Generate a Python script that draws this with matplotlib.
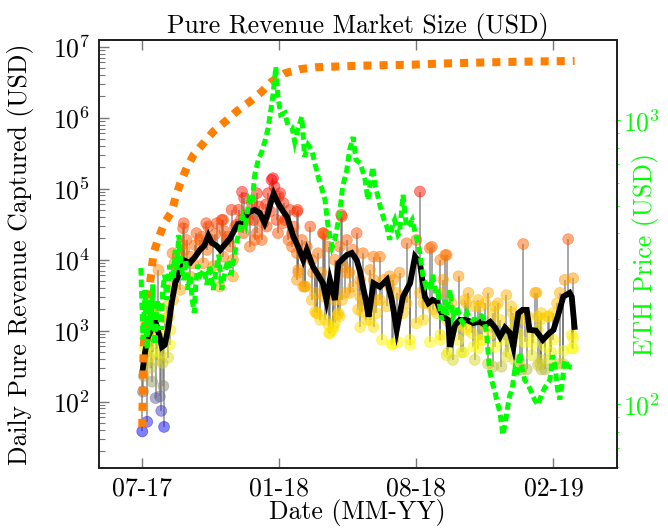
import numpy as np
import matplotlib
matplotlib.use("Agg")
import matplotlib.pyplot as plt
from matplotlib.colors import LinearSegmentedColormap
from matplotlib.ticker import NullFormatter, LogLocator, FixedLocator

# x values are days since 2017-07-07
tick_days = [0, 195, 390, 585]
tick_labels = ["07-17", "01-18", "08-18", "02-19"]

# ETH price (USD), right axis
eth_days = [-2, 1, 4, 7, 10, 12, 15, 18, 22, 27, 29, 32, 35, 39, 44, 47, 49, 52, 55, 59,
            62, 65, 68, 71, 74, 76, 79, 83, 88, 92, 96, 101, 105, 109, 113, 118, 122, 126, 130, 135,
            139, 143, 147, 152, 156, 160, 165, 170, 175, 179, 183, 186, 190, 193, 197, 203, 207, 213, 217, 221,
            227, 231, 236, 241, 246, 248, 253, 255, 260, 264, 270, 274, 278, 281, 285, 291, 295, 300, 304, 310,
            314, 317, 321, 325, 328, 331, 334, 338, 341, 345, 348, 352, 356, 359, 364, 366, 371, 374, 376, 380,
            384, 388, 391, 395, 399, 403, 406, 411, 413, 418, 421, 423, 426, 431, 433, 438, 442, 448, 452, 456,
            462, 466, 470, 476, 480, 485, 490, 494, 497, 502, 504, 509, 513, 516, 520, 523, 526, 530, 533, 537,
            540, 544, 549, 554, 558, 563, 568, 573, 577, 580, 584, 587, 591, 594, 597, 601, 606, 611]
eth_price = [302, 169, 253, 156, 233, 183, 264, 162, 233, 183, 253, 286, 233, 310, 274, 350, 298, 395, 310, 274,
             323, 253, 286, 233, 210, 264, 310, 286, 298, 264, 310, 253, 298, 336, 253, 298, 323, 286, 323, 380,
             412, 457, 429, 525, 504, 643, 726, 775, 854, 941, 1089, 1230, 1543, 1210, 1046, 1063, 964, 949, 840, 926,
             1029, 744, 820, 787, 697, 669, 593, 580, 525, 429, 358, 380, 429, 476, 583, 669, 787, 874, 726, 708,
             658, 617, 525, 617, 686, 593, 556, 504, 472, 439, 422, 380, 429, 446, 395, 401, 547, 465, 422, 429,
             446, 405, 380, 341, 286, 264, 274, 253, 286, 243, 247, 224, 198, 233, 207, 253, 203, 220, 201, 194,
             210, 201, 198, 201, 207, 203, 178, 132, 122, 110, 104, 93.5, 78, 84.7, 98.4, 108, 112, 132, 127, 152,
             136, 122, 117, 110, 104, 99.6, 108, 115, 119, 122, 149, 138, 112, 104, 117, 143, 136, 135]

# moving average of daily pure revenue (black line)
ma_days = [0, 4, 8, 14, 19, 24, 28, 32, 37, 42, 47, 54, 61, 68, 75, 82, 88, 94, 99, 106,
           111, 118, 125, 132, 136, 142, 150, 160, 167, 174, 179, 184, 187, 193, 199, 206, 215, 222, 229, 234,
           243, 250, 257, 262, 267, 274, 279, 291, 298, 305, 310, 314, 318, 322, 329, 338, 348, 355, 362, 371,
           381, 388, 395, 402, 407, 413, 419, 428, 435, 438, 445, 452, 461, 471, 480, 488, 495, 502, 509, 516,
           523, 528, 535, 541, 547, 551, 560, 570, 578, 585, 592, 599, 608, 611, 615]
ma_rev = [254, 501, 815, 1091, 1325, 869, 590, 630, 1091, 2535, 4700, 6930, 9600, 9000, 10900, 13700, 15600, 21600, 17200, 15600,
          13700, 16600, 20000, 27100, 31700, 32900, 45500, 50200, 45500, 32900, 45500, 69400, 84200, 62900, 50200, 39900, 21100, 15000, 9900, 13700,
          7900, 6100, 4650, 2700, 5180, 2700, 8900, 11600, 12400, 9900, 6700, 4130, 2700, 1570, 4650, 4130, 5180, 2700, 1023, 3010,
          4650, 11000, 9000, 3010, 2430, 2700, 2560, 1570, 1416, 590, 1200, 1416, 1416, 1280, 1330, 1200, 1330, 1100, 820, 1100,
          930, 590, 1760, 1960, 1960, 1023, 1000, 740, 900, 1023, 1700, 3010, 3400, 3000, 1127]

# cumulative pure revenue (orange)
cum_days = [0, 1, 2, 4, 6, 10, 11, 16, 23, 32, 42, 47, 54, 63, 73, 87, 101, 118, 134, 153,
            170, 184, 203, 224, 248, 272, 314, 384, 428, 495, 566, 615]
cum_rev = [44, 230, 600, 969, 1580, 2700, 4590, 12300, 20100, 33400, 47400, 73300, 119000, 194000, 299000,
           436000, 636000, 879000, 1220000, 1680000, 2320000, 3210000, 4220000, 4810000, 5130000, 5230000,
           5400000, 5570000, 5790000, 6020000, 6190000, 6290000]

# daily pure revenue (points)
pt_days = [0, 7, 31, 27, 19, 25, 1, 14, 30, 2, 6, 21, 37, 39, 3, 4, 13, 28, 5, 16,
           20, 11, 40, 38, 44, 23, 46, 43, 58, 56, 68, 72, 82, 92, 94, 106, 115, 125, 144, 153,
           163, 172, 191, 213, 220, 229, 239, 248, 258, 266, 274, 253, 200, 145, 184, 163, 196, 220, 91, 59,
           127, 113, 258, 142, 179, 156, 186, 188, 194, 201, 210, 221, 257, 284, 174, 137, 160, 170, 193, 222,
           232, 246, 249, 260, 267, 272, 279, 284, 241, 213, 208, 283, 305, 291, 300, 314, 329, 338, 281, 286,
           295, 310, 324, 352, 366, 376, 395, 390, 409, 424, 431, 281, 307, 319, 329, 341, 355, 364, 381, 390,
           409, 424, 433, 295, 338, 348, 376, 405, 428, 329, 357, 542, 433, 450, 518, 559, 459, 488, 502, 578,
           473, 530, 549, 445, 469, 497, 514, 535, 563, 435, 454, 478, 492, 511, 540, 568, 580, 521, 554, 483,
           606, 613, 601, 590, 594, 561, 577, 563, 611, 613, 599, 582, 568, 594, 573,
           440, 464, 478, 492, 506, 525, 544, 568, 459, 488, 525, 554, 450, 502, 544, 573, 473, 530, 563,
           288, 300, 314, 324, 343, 362, 371, 395, 400, 414, 424, 433, 310, 333,
           203, 215, 227, 234, 250, 265, 274, 222, 255, 262, 274, 241, 177, 151, 132,
           63, 77, 87, 101, 115, 129, 120, 49, 68, 110, 129, 54, 44,
           260, 220, 231, 246, 265, 271, 278, 312, 324, 357, 381, 424, 442, 457, 471, 499, 518, 537, 547, 566,
           599, 611, 243, 291, 352, 310, 333, 371, 400, 419, 461, 480, 499, 509, 527, 566, 585, 480, 527, 556,
           585, 461, 613, 412,
           50, 60, 75, 85, 97, 104, 117, 122, 134, 140, 148, 158, 166, 176, 182,
           8, 10, 12, 15, 17, 22, 26, 29, 33, 35]
pt_rev = [38, 52, 44, 74, 112, 118, 138, 191, 166, 230, 347, 386, 417, 630, 565, 782, 869, 918, 1203, 1416,
          2070, 2432, 1023, 1574, 2704, 7160, 8890, 12300, 27700, 16100, 11000, 8890, 18900, 13700, 29200, 32600, 36200, 15200, 23600, 15200,
          23600, 32600, 36200, 23600, 12300, 4170, 29200, 1760, 3010, 918, 1270, 1416, 32600, 73300, 133000, 86100, 86100, 47400, 32600, 32600,
          50200, 36200, 23600, 90000, 86100, 62200, 140000, 107000, 77100, 62200, 50200, 50200, 23600, 40400, 40400, 50200, 18900, 18900, 23600, 7160,
          4170, 3400, 1760, 1416, 918, 1120, 1760, 2700, 9900, 15200, 18900, 42700, 23600, 18900, 13700, 12300, 11000, 11000, 15200, 8090,
          6540, 5180, 7160, 4170, 6540, 17000, 90800, 18900, 14500, 9900, 11600, 1580, 1980, 1416, 1120, 740, 630, 690, 630, 1270,
          690, 740, 450, 3400, 2700, 2190, 2430, 2430, 5180, 5180, 5180, 16600, 11600, 5820, 3160, 3400, 2700, 2430, 2190, 1580,
          2190, 1416, 1580, 1120, 918, 918, 740, 918, 1023, 494, 494, 559, 340, 310, 284, 284, 386, 494, 450, 740,
          19400, 5470, 5180, 2430, 3400, 3400, 1580, 1580, 869, 559, 520, 494, 386, 340, 284,
          2430, 3400, 2700, 3400, 2430, 2190, 1416, 1760, 1120, 1120, 1023, 918, 740, 590, 680, 590, 386, 386, 330,
          3400, 4170, 2700, 2190, 5180, 3400, 1760, 3400, 1416, 1980, 3400, 1416, 1120, 1760,
          36200, 29200, 18900, 15200, 12300, 15200, 9900, 6540, 6540, 3400, 2700, 2700, 29200, 36200, 29200,
          18900, 23600, 8890, 8090, 11000, 9900, 18900, 7160, 5770, 4170, 5770, 3740, 4170,
          22300, 5180, 4170, 1850, 1200, 1023, 1680, 1850, 1416, 660, 740, 869, 386, 494, 596, 310, 430, 340, 284, 340,
          340, 565, 6540, 6540, 5820, 3010, 2700, 3010, 2430, 1760, 2430, 2190, 1760, 1416, 1760, 1416, 1760, 740, 660, 660,
          740, 1023, 780, 15200,
          11000, 13700, 16000, 21000, 19000, 23000, 25000, 21000, 31000, 36000, 42000, 36000, 56000, 60000, 48000,
          600, 420, 300, 500, 900, 700, 480, 350, 1500, 2200]

plt.rcParams["font.family"] = "cmr10"
plt.rcParams["mathtext.fontset"] = "cm"
plt.rcParams["axes.formatter.use_mathtext"] = True
plt.rcParams["axes.unicode_minus"] = False

FS = 18.5
GREEN = "#00ff00"
ORANGE = "#ff7f00"

fig = plt.figure(figsize=(6.68, 5.29), dpi=100)
ax = fig.add_axes([0.14776, 0.11531, 0.77545, 0.80907])

pd_ = np.array(pt_days, dtype=float)
pr_ = np.array(pt_rev, dtype=float)
ma_at_pts = 10 ** np.interp(pd_, ma_days, np.log10(ma_rev))
ax.vlines(pd_, pr_, ma_at_pts, colors="#555555", linewidth=1.1, alpha=0.65, zorder=1)

cmap = LinearSegmentedColormap.from_list("byor", ["#0000ff", "#ffff00", "#ff8000", "#ff0000"])
lc = np.log10(pr_)
ax.scatter(pd_, pr_, c=lc, cmap=cmap, vmin=lc.min(), vmax=lc.max(), s=62, alpha=0.5,
           linewidths=0.5, edgecolors="face", zorder=2)

ax.plot(ma_days, ma_rev, color="black", lw=4.2, solid_joinstyle="miter", zorder=3)
ax.plot(cum_days, cum_rev, color=ORANGE, lw=5.8, dashes=(1, 1), dash_capstyle="butt", zorder=4)

ax.set_yscale("log")
ax.set_ylim(11.6, 1.24e7)
ax.set_xlim(-62, 675)
ax.set_xticks(tick_days)
ax.set_xticklabels(tick_labels)
ax.yaxis.set_major_locator(FixedLocator([1e2, 1e3, 1e4, 1e5, 1e6, 1e7]))
ax.yaxis.set_minor_locator(LogLocator(base=10, subs=np.arange(2, 10), numticks=20))
ax.yaxis.set_minor_formatter(NullFormatter())
ax.tick_params(which="both", direction="in", top=True, right=True, colors="#777777",
               labelcolor="black", labelsize=FS)
ax.tick_params(which="major", length=7, width=1.0, pad=6)
ax.tick_params(which="minor", length=4, width=0.8)
ax.tick_params(axis="x", which="minor", top=False, bottom=False)
for s in ax.spines.values():
    s.set_linewidth(1.3)
    s.set_color("#222222")

ax.set_xlabel("Date (MM-YY)", fontsize=FS)
ax.xaxis.set_label_coords(0.5, -0.072)
ax.set_ylabel("Daily Pure Revenue Captured (USD)", fontsize=FS)
ax.yaxis.set_label_coords(-0.125, 0.5)
ax.set_title("Pure Revenue Market Size (USD)", fontsize=FS, pad=4)

ax2 = ax.twinx()
ax2.plot(eth_days, eth_price, color=GREEN, lw=3.6, dashes=(1.5, 0.8), dash_capstyle="butt",
         dash_joinstyle="miter", zorder=5)
ax2.set_yscale("log")
ax2.set_ylim(59.7, 1919)
ax2.yaxis.set_major_locator(FixedLocator([1e2, 1e3]))
ax2.yaxis.set_minor_formatter(NullFormatter())
ax2.tick_params(which="both", direction="out", colors=GREEN, labelcolor=GREEN, labelsize=FS)
ax2.tick_params(which="major", length=2.5, width=0.8, pad=2)
ax2.tick_params(which="minor", length=1.5, width=0.6)
for s in ax2.spines.values():
    s.set_linewidth(1.3)
    s.set_color("#222222")
ax2.set_ylabel("ETH Price (USD)", fontsize=FS, color=GREEN)
ax2.yaxis.set_label_coords(1.03, 0.5)

fig.savefig("out.png", dpi=100)
